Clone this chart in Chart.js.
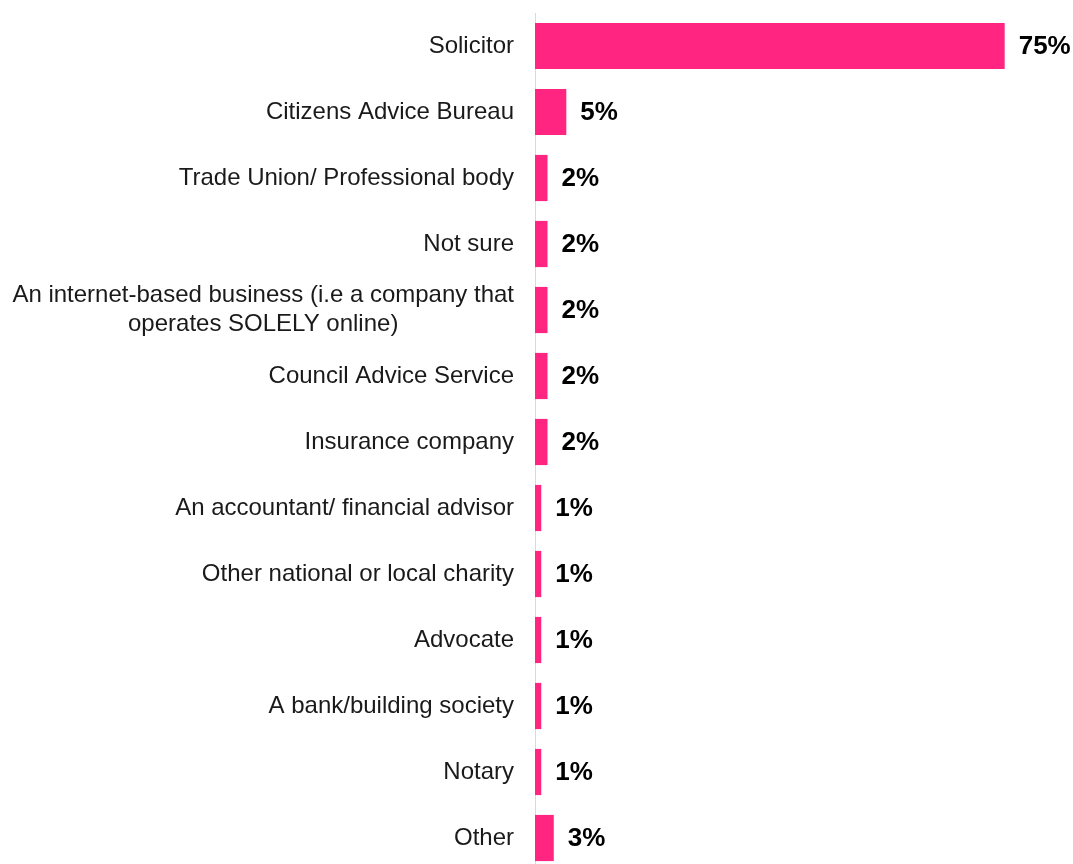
<!DOCTYPE html>
<html>
<head>
<meta charset="utf-8">
<script src="https://cdn.jsdelivr.net/npm/chart.js@4/dist/chart.umd.min.js"></script>
<style>
  html, body { margin: 0; padding: 0; background: #fff; overflow: hidden; }
  #wrap { width: 1073px; height: 871px; }
</style>
</head>
<body>
<div id="wrap"><canvas id="adviceChart"></canvas></div>
<script>
// Where people went for advice (% of respondents)
const categories = [
    'Solicitor',
    'Citizens Advice Bureau',
    'Trade Union/ Professional body',
    'Not sure',
    ['An internet-based business (i.e a company that', 'operates SOLELY online)'],
    'Council Advice Service',
    'Insurance company',
    'An accountant/ financial advisor',
    'Other national or local charity',
    'Advocate',
    'A bank/building society',
    'Notary',
    'Other'
];
const percentages = [75, 5, 2, 2, 2, 2, 2, 1, 1, 1, 1, 1, 3];

const barColour = '#ff2580';
const textColour = '#1a1a1a';
const fontFamily = 'Arial, "Liberation Sans", Helvetica, sans-serif';
const tickSize = 24;
const tickPadding = 21;

// Bold value text just past the end of each bar
const valueLabels = {
    id: 'valueLabels',
    afterDatasetsDraw(chart) {
        const ctx = chart.ctx;
        const meta = chart.getDatasetMeta(0);
        ctx.save();
        ctx.font = 'bold 26px ' + fontFamily;
        ctx.fillStyle = '#000';
        ctx.textAlign = 'left';
        ctx.textBaseline = 'middle';
        meta.data.forEach((bar, i) => {
            ctx.fillText(percentages[i] + '%', bar.x + 14, bar.y + 1);
        });
        ctx.restore();
    }
};

// Wrapped category names are centred as a block, flush with the other labels on the right
const wrappedLabels = {
    id: 'wrappedLabels',
    afterDraw(chart) {
        const ctx = chart.ctx;
        const yScale = chart.scales.y;
        const right = yScale.right - tickPadding;
        const lineGap = tickSize * 1.2;
        ctx.save();
        ctx.font = tickSize + 'px ' + fontFamily;
        ctx.fillStyle = textColour;
        ctx.textAlign = 'center';
        ctx.textBaseline = 'middle';
        categories.forEach((label, i) => {
            if (!Array.isArray(label)) return;
            const widest = Math.max(...label.map(line => ctx.measureText(line).width));
            const cx = right - widest / 2;
            const y0 = yScale.getPixelForTick(i) - (label.length - 1) * lineGap / 2;
            label.forEach((line, k) => ctx.fillText(line, cx, y0 + k * lineGap));
        });
        ctx.restore();
    }
};

new Chart(document.getElementById('adviceChart'), {
    type: 'bar',
    data: {
        labels: categories,
        datasets: [{
            data: percentages,
            backgroundColor: barColour,
            borderWidth: 0,
            barPercentage: 0.7,
            categoryPercentage: 1.0
        }]
    },
    options: {
        indexAxis: 'y',
        responsive: true,
        maintainAspectRatio: false,
        animation: false,
        layout: { padding: { top: 13, right: 37, bottom: 0, left: 0 } },
        plugins: {
            legend: { display: false },
            tooltip: { enabled: false }
        },
        scales: {
            x: {
                min: 0,
                max: 80,
                display: false
            },
            y: {
                grid: { display: false, drawTicks: false },
                border: { display: true, color: '#d9d9d9', width: 1 },
                afterFit(scale) {
                    scale.width = 535;
                    scale.paddingTop = 0;
                    scale.paddingBottom = 0;
                },
                ticks: {
                    padding: tickPadding,
                    color: textColour,
                    font: { family: fontFamily, size: tickSize, lineHeight: 1.2 },
                    // multi-line names are drawn by wrappedLabels
                    callback(value) {
                        const label = this.getLabelForValue(value);
                        return Array.isArray(categories[value]) ? '' : label;
                    }
                }
            }
        }
    },
    plugins: [valueLabels, wrappedLabels]
});
</script>
</body>
</html>
